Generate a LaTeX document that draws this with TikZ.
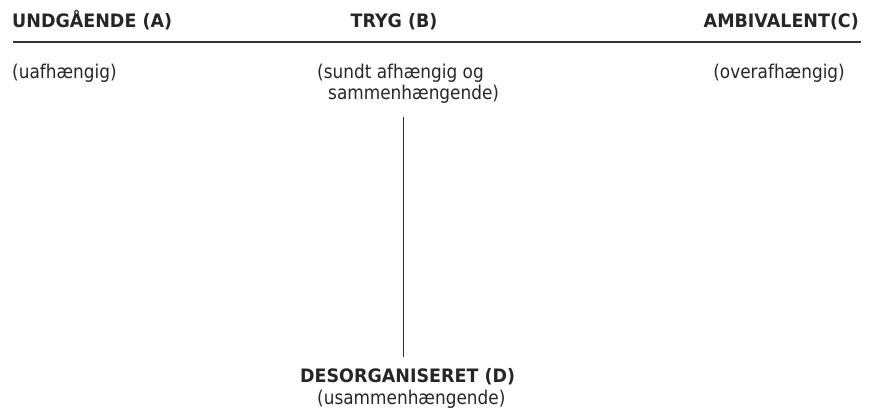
\documentclass[tikz,border=0pt]{standalone}
\usepackage{fontspec}
\usepackage{tikz}
\newfontfamily\bodyfont{DejaVu Sans}[FakeStretch=0.89]
\newfontfamily\headfont{DejaVu Sans}[FakeStretch=0.945]

\tikzset{
  head/.style={font=\headfont\bfseries\fontsize{18.5}{22}\selectfont, inner sep=0pt, text=black!85},
  body/.style={font=\bodyfont\fontsize{19}{21}\selectfont, inner sep=0pt, text=black!85, align=left}
}

\begin{document}
\begin{tikzpicture}[x=1pt,y=-1pt]
\useasboundingbox (0,0) rectangle (872,410);
% headings
\node [head, anchor=base west] (undg) at (12,27) {UNDGÅENDE (A)};
\node [head, anchor=base] (tryg) at (394,27) {TRYG (B)};
\node [head, anchor=base east] (ambi) at (859,27) {AMBIVALENT(C)};
\draw [black!80, line width=1.2pt] (13,42) -- (861,42);
% subtitles
\node [body, anchor=base west] (uafh) at (12,78) {(uafhængig)};
\node [body, anchor=base west] (sundt) at (317,99) {(sundt afhængig og\\\hspace*{11pt}sammenhængende)};
\node [body, anchor=base east] (overa) at (845,78) {(overafhængig)};
% bottom
\coordinate (top) at (403,117);
\coordinate (bot) at (403,357);
\draw [black!80, line width=0.9pt] (top) -- (bot);
\node [head, anchor=base west] (deso) at (300,382) {DESORGANISERET (D)};
\node [body, anchor=base west] (usam) at (317,404) {(usammenhængende)};
\end{tikzpicture}
\end{document}
